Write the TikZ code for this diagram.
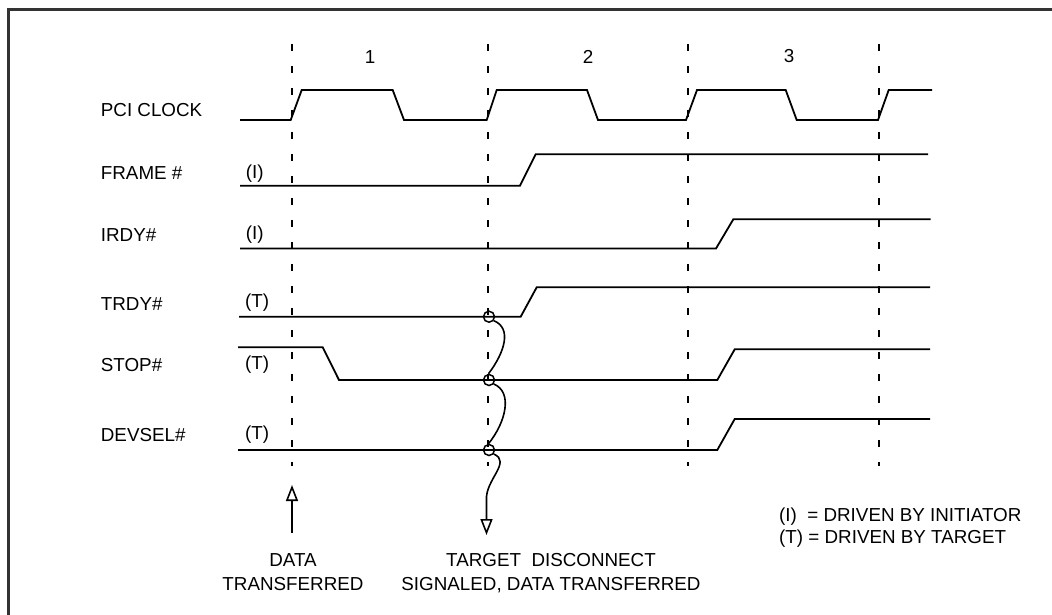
\documentclass[tikz,border=0pt]{standalone}
\usepackage{fontspec}
\setmainfont{Liberation Sans}
\usetikzlibrary{arrows.meta}
\begin{document}
\begin{tikzpicture}[x=1pt,y=-1pt,line width=1.8pt,every node/.style={font=\fontsize{18.8}{24}\selectfont,inner sep=0pt},
  guide/.style={line width=1.8pt,dash pattern=on 7pt off 15pt},
  tag/.style={draw,circle,minimum size=11pt,line width=1.5pt},
  cause/.style={line width=1.6pt,-{Triangle[open,length=16pt,width=12pt]}}]
\clip (0,0) rectangle (1052,614);
\draw[line width=3pt,black!80] (8,9.7) rectangle (1070,630);
\coordinate (datatip) at (292,485);
\coordinate (datafoot) at (292,533);
\coordinate (sigtip) at (486.5,535);
\foreach \x in {292.3,488,688,878.7}
  \draw[guide] (\x,44) -- (\x,466);
\draw (240,120) -- (290.7,120) -- (301.7,90) -- (392.7,90) -- (404,120) -- (486.7,120) -- (496.7,90) -- (587,90) -- (598,120)
  -- (686,120) -- (697,90) -- (785.7,90) -- (796.7,120) -- (878,120) -- (888.7,90) -- (932,90);
\draw (240,185.7) -- (520,185.7) -- (535.7,154.3) -- (928,154.3);
\draw (240,248.5) -- (716,248.5) -- (733.3,219.3) -- (930.7,219.3);
\draw (239,316.7) -- (520.7,316.7) -- (536.7,287.3) -- (930,287.3);
\draw (238,347.3) -- (322.7,347.3) -- (339,380) -- (717.3,380) -- (734.7,349.3) -- (930,349.3);
\draw (238,450) -- (717.3,450) -- (734.7,419) -- (930,419);
\node[tag] (tr) at (489,316.7) {};
\node[tag] (st) at (489,380) {};
\node[tag] (dv) at (489,450) {};
\draw[line width=1.6pt] (tr.-40) .. controls (512,328) and (505,352) .. (st.95);
\draw[line width=1.6pt] (st.-40) .. controls (513,392) and (506,422) .. (dv.95);
\draw[cause] (dv.-40) .. controls (512,462) and (485,480) .. (486.5,500) -- (sigtip);
\draw[cause] (datafoot) -- (datatip);
\node[anchor=base] (p1) at (370,63) {1};
\node[anchor=base] (p2) at (588,63) {2};
\node[anchor=base] (p3) at (789,62) {3};
\node[anchor=base west] (clk) at (100,116) {PCI CLOCK};
\node[anchor=base west] (frame) at (100,179) {FRAME \#};
\node[anchor=base west] (irdy) at (100,241) {IRDY\#};
\node[anchor=base west] (trdy) at (100,310) {TRDY\#};
\node[anchor=base west] (stop) at (100,371) {STOP\#};
\node[anchor=base west] (devsel) at (100,441) {DEVSEL\#};
\node[anchor=base west] (fdrv) at (245,178.5) {(I)};
\node[anchor=base west] (idrv) at (245,239.5) {(I)};
\node[anchor=base west] (tdrv) at (244.3,307.8) {(T)};
\node[anchor=base west] (sdrv) at (244.3,369.4) {(T)};
\node[anchor=base west] (ddrv) at (244.3,439.4) {(T)};
\node[anchor=base,align=center] (datatext) at (293,590) {DATA\\TRANSFERRED};
\node[anchor=base,align=center] (disctext) at (551,590) {TARGET\ \ DISCONNECT\\SIGNALED, DATA TRANSFERRED};
\node[anchor=base west,align=left,font=\fontsize{18.8}{21.6}\selectfont] (legend) at (778.3,543.3) {(I)\ \ = DRIVEN BY INITIATOR\\(T) = DRIVEN BY TARGET};
\end{tikzpicture}
\end{document}
